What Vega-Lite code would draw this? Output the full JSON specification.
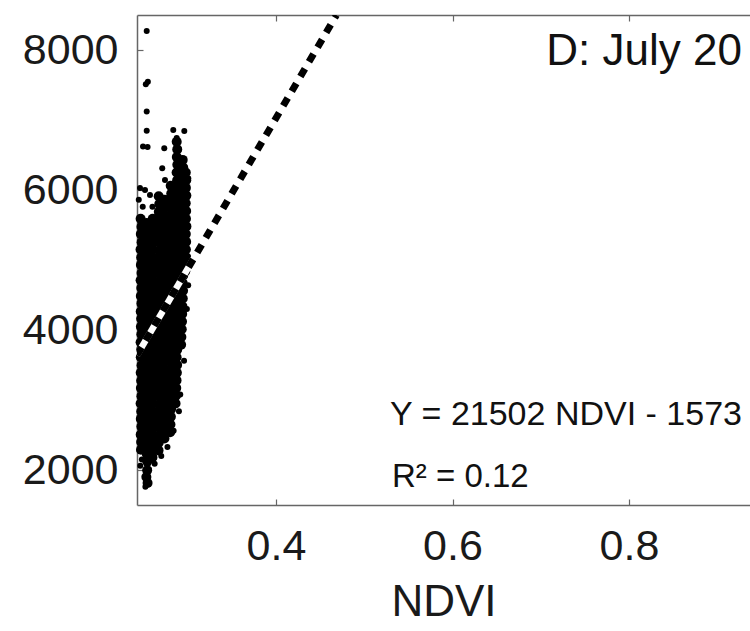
{
  "$schema": "https://vega.github.io/schema/vega-lite/v6.json",
  "autosize": {"type": "none"},
  "padding": {"left": 137, "top": 15, "right": 0, "bottom": 126},
  "width": 613,
  "height": 490,
  "background": "white",
  "config": {
    "view": {"stroke": null},
    "font": "Liberation Sans",
    "axis": {"grid": false, "labelFont": "Liberation Sans", "titleFont": "Liberation Sans", "labelColor": "#1a1a1a", "titleColor": "#1a1a1a", "domainColor": "#666666", "domainWidth": 1.5, "tickColor": "#666666", "tickWidth": 1.2, "titleFontWeight": "normal"}
  },
  "datasets": {
    "cloud": [
      {"ndvi": 0.2466, "y": 5590}, {"ndvi": 0.2475, "y": 5475}, {"ndvi": 0.2468, "y": 5370}, {"ndvi": 0.2477, "y": 5255}, {"ndvi": 0.2465, "y": 5150}, {"ndvi": 0.2472, "y": 5035}, {"ndvi": 0.2469, "y": 4930}, {"ndvi": 0.2476, "y": 4815}, {"ndvi": 0.2466, "y": 4710}, {"ndvi": 0.2473, "y": 4600}, {"ndvi": 0.2468, "y": 4485}, {"ndvi": 0.2475, "y": 4380}, {"ndvi": 0.2467, "y": 4265}, {"ndvi": 0.2472, "y": 4160}, {"ndvi": 0.2469, "y": 4045}, {"ndvi": 0.2474, "y": 3940}, {"ndvi": 0.2466, "y": 3825}, {"ndvi": 0.2473, "y": 3720}, {"ndvi": 0.2468, "y": 3610}, {"ndvi": 0.2476, "y": 3495}, {"ndvi": 0.2467, "y": 3390}, {"ndvi": 0.2472, "y": 3275}, {"ndvi": 0.2469, "y": 3170}, {"ndvi": 0.2475, "y": 3055}, {"ndvi": 0.2466, "y": 2950}, {"ndvi": 0.2473, "y": 2835}, {"ndvi": 0.2468, "y": 2730}, {"ndvi": 0.2474, "y": 2620}, {"ndvi": 0.2467, "y": 2505}, {"ndvi": 0.2472, "y": 2400}, {"ndvi": 0.2470, "y": 2290},
      {"ndvi": 0.2535, "y": 5530}, {"ndvi": 0.2541, "y": 5420}, {"ndvi": 0.2534, "y": 5310}, {"ndvi": 0.2540, "y": 5200}, {"ndvi": 0.2537, "y": 5090}, {"ndvi": 0.2543, "y": 4980}, {"ndvi": 0.2536, "y": 4870}, {"ndvi": 0.2540, "y": 4760}, {"ndvi": 0.2533, "y": 4650}, {"ndvi": 0.2541, "y": 4540}, {"ndvi": 0.2537, "y": 4430}, {"ndvi": 0.2542, "y": 4320}, {"ndvi": 0.2535, "y": 4210}, {"ndvi": 0.2539, "y": 4100}, {"ndvi": 0.2536, "y": 3990}, {"ndvi": 0.2543, "y": 3880}, {"ndvi": 0.2534, "y": 3770}, {"ndvi": 0.2540, "y": 3660}, {"ndvi": 0.2537, "y": 3550}, {"ndvi": 0.2541, "y": 3440}, {"ndvi": 0.2535, "y": 3330}, {"ndvi": 0.2539, "y": 3220}, {"ndvi": 0.2536, "y": 3110}, {"ndvi": 0.2542, "y": 3000}, {"ndvi": 0.2534, "y": 2890}, {"ndvi": 0.2540, "y": 2780}, {"ndvi": 0.2537, "y": 2670}, {"ndvi": 0.2541, "y": 2560}, {"ndvi": 0.2535, "y": 2450}, {"ndvi": 0.2539, "y": 2340}, {"ndvi": 0.2536, "y": 2230}, {"ndvi": 0.2541, "y": 2120}, {"ndvi": 0.2540, "y": 1995}, {"ndvi": 0.2531, "y": 1900}, {"ndvi": 0.2545, "y": 1815},
      {"ndvi": 0.2603, "y": 5590}, {"ndvi": 0.2609, "y": 5480}, {"ndvi": 0.2604, "y": 5370}, {"ndvi": 0.2610, "y": 5260}, {"ndvi": 0.2602, "y": 5150}, {"ndvi": 0.2608, "y": 5040}, {"ndvi": 0.2605, "y": 4930}, {"ndvi": 0.2611, "y": 4820}, {"ndvi": 0.2603, "y": 4710}, {"ndvi": 0.2607, "y": 4600}, {"ndvi": 0.2604, "y": 4490}, {"ndvi": 0.2610, "y": 4380}, {"ndvi": 0.2602, "y": 4270}, {"ndvi": 0.2608, "y": 4160}, {"ndvi": 0.2605, "y": 4050}, {"ndvi": 0.2609, "y": 3940}, {"ndvi": 0.2603, "y": 3830}, {"ndvi": 0.2607, "y": 3720}, {"ndvi": 0.2604, "y": 3610}, {"ndvi": 0.2610, "y": 3500}, {"ndvi": 0.2602, "y": 3390}, {"ndvi": 0.2608, "y": 3280}, {"ndvi": 0.2605, "y": 3170}, {"ndvi": 0.2611, "y": 3060}, {"ndvi": 0.2603, "y": 2950}, {"ndvi": 0.2607, "y": 2840}, {"ndvi": 0.2604, "y": 2730}, {"ndvi": 0.2609, "y": 2620}, {"ndvi": 0.2602, "y": 2510}, {"ndvi": 0.2608, "y": 2400}, {"ndvi": 0.2605, "y": 2290}, {"ndvi": 0.2600, "y": 2180},
      {"ndvi": 0.2671, "y": 5910}, {"ndvi": 0.2677, "y": 5800}, {"ndvi": 0.2672, "y": 5690}, {"ndvi": 0.2678, "y": 5580}, {"ndvi": 0.2670, "y": 5470}, {"ndvi": 0.2676, "y": 5360}, {"ndvi": 0.2673, "y": 5250}, {"ndvi": 0.2679, "y": 5140}, {"ndvi": 0.2671, "y": 5030}, {"ndvi": 0.2675, "y": 4920}, {"ndvi": 0.2672, "y": 4810}, {"ndvi": 0.2678, "y": 4700}, {"ndvi": 0.2670, "y": 4590}, {"ndvi": 0.2676, "y": 4480}, {"ndvi": 0.2673, "y": 4370}, {"ndvi": 0.2677, "y": 4260}, {"ndvi": 0.2671, "y": 4150}, {"ndvi": 0.2675, "y": 4040}, {"ndvi": 0.2672, "y": 3930}, {"ndvi": 0.2678, "y": 3820}, {"ndvi": 0.2670, "y": 3710}, {"ndvi": 0.2676, "y": 3600}, {"ndvi": 0.2673, "y": 3490}, {"ndvi": 0.2679, "y": 3380}, {"ndvi": 0.2671, "y": 3270}, {"ndvi": 0.2675, "y": 3160}, {"ndvi": 0.2672, "y": 3050}, {"ndvi": 0.2677, "y": 2940}, {"ndvi": 0.2670, "y": 2830}, {"ndvi": 0.2676, "y": 2720}, {"ndvi": 0.2673, "y": 2610}, {"ndvi": 0.2678, "y": 2500}, {"ndvi": 0.2671, "y": 2390}, {"ndvi": 0.2669, "y": 2280},
      {"ndvi": 0.2739, "y": 5860}, {"ndvi": 0.2745, "y": 5750}, {"ndvi": 0.2740, "y": 5640}, {"ndvi": 0.2746, "y": 5530}, {"ndvi": 0.2738, "y": 5420}, {"ndvi": 0.2744, "y": 5310}, {"ndvi": 0.2741, "y": 5200}, {"ndvi": 0.2747, "y": 5090}, {"ndvi": 0.2739, "y": 4980}, {"ndvi": 0.2743, "y": 4870}, {"ndvi": 0.2740, "y": 4760}, {"ndvi": 0.2746, "y": 4650}, {"ndvi": 0.2738, "y": 4540}, {"ndvi": 0.2744, "y": 4430}, {"ndvi": 0.2741, "y": 4320}, {"ndvi": 0.2745, "y": 4210}, {"ndvi": 0.2739, "y": 4100}, {"ndvi": 0.2743, "y": 3990}, {"ndvi": 0.2740, "y": 3880}, {"ndvi": 0.2746, "y": 3770}, {"ndvi": 0.2738, "y": 3660}, {"ndvi": 0.2744, "y": 3550}, {"ndvi": 0.2741, "y": 3440}, {"ndvi": 0.2747, "y": 3330}, {"ndvi": 0.2739, "y": 3220}, {"ndvi": 0.2743, "y": 3110}, {"ndvi": 0.2740, "y": 3000}, {"ndvi": 0.2745, "y": 2890}, {"ndvi": 0.2738, "y": 2780}, {"ndvi": 0.2744, "y": 2670}, {"ndvi": 0.2741, "y": 2560}, {"ndvi": 0.2736, "y": 2450},
      {"ndvi": 0.2807, "y": 6060}, {"ndvi": 0.2813, "y": 5950}, {"ndvi": 0.2808, "y": 5840}, {"ndvi": 0.2814, "y": 5730}, {"ndvi": 0.2806, "y": 5620}, {"ndvi": 0.2812, "y": 5510}, {"ndvi": 0.2809, "y": 5400}, {"ndvi": 0.2815, "y": 5290}, {"ndvi": 0.2807, "y": 5180}, {"ndvi": 0.2811, "y": 5070}, {"ndvi": 0.2808, "y": 4960}, {"ndvi": 0.2814, "y": 4850}, {"ndvi": 0.2806, "y": 4740}, {"ndvi": 0.2812, "y": 4630}, {"ndvi": 0.2809, "y": 4520}, {"ndvi": 0.2813, "y": 4410}, {"ndvi": 0.2807, "y": 4300}, {"ndvi": 0.2811, "y": 4190}, {"ndvi": 0.2808, "y": 4080}, {"ndvi": 0.2814, "y": 3970}, {"ndvi": 0.2806, "y": 3860}, {"ndvi": 0.2812, "y": 3750}, {"ndvi": 0.2809, "y": 3640}, {"ndvi": 0.2815, "y": 3530}, {"ndvi": 0.2807, "y": 3420}, {"ndvi": 0.2811, "y": 3310}, {"ndvi": 0.2808, "y": 3200}, {"ndvi": 0.2813, "y": 3090}, {"ndvi": 0.2806, "y": 2980}, {"ndvi": 0.2812, "y": 2870}, {"ndvi": 0.2809, "y": 2760}, {"ndvi": 0.2804, "y": 2650}, {"ndvi": 0.2801, "y": 2540},
      {"ndvi": 0.2875, "y": 6690}, {"ndvi": 0.2881, "y": 6580}, {"ndvi": 0.2876, "y": 6470}, {"ndvi": 0.2882, "y": 6360}, {"ndvi": 0.2874, "y": 6250}, {"ndvi": 0.2880, "y": 6140}, {"ndvi": 0.2877, "y": 6030}, {"ndvi": 0.2883, "y": 5920}, {"ndvi": 0.2875, "y": 5810}, {"ndvi": 0.2879, "y": 5700}, {"ndvi": 0.2876, "y": 5590}, {"ndvi": 0.2882, "y": 5480}, {"ndvi": 0.2874, "y": 5370}, {"ndvi": 0.2880, "y": 5260}, {"ndvi": 0.2877, "y": 5150}, {"ndvi": 0.2881, "y": 5040}, {"ndvi": 0.2875, "y": 4930}, {"ndvi": 0.2879, "y": 4820}, {"ndvi": 0.2876, "y": 4710}, {"ndvi": 0.2882, "y": 4600}, {"ndvi": 0.2874, "y": 4490}, {"ndvi": 0.2880, "y": 4380}, {"ndvi": 0.2877, "y": 4270}, {"ndvi": 0.2883, "y": 4160}, {"ndvi": 0.2875, "y": 4050}, {"ndvi": 0.2879, "y": 3940}, {"ndvi": 0.2876, "y": 3830}, {"ndvi": 0.2881, "y": 3720}, {"ndvi": 0.2874, "y": 3610}, {"ndvi": 0.2880, "y": 3500}, {"ndvi": 0.2877, "y": 3390}, {"ndvi": 0.2873, "y": 3280}, {"ndvi": 0.2870, "y": 3170}, {"ndvi": 0.2866, "y": 3060}, {"ndvi": 0.2862, "y": 2950},
      {"ndvi": 0.2943, "y": 6430}, {"ndvi": 0.2949, "y": 6320}, {"ndvi": 0.2944, "y": 6210}, {"ndvi": 0.2950, "y": 6100}, {"ndvi": 0.2942, "y": 5990}, {"ndvi": 0.2948, "y": 5880}, {"ndvi": 0.2945, "y": 5770}, {"ndvi": 0.2951, "y": 5660}, {"ndvi": 0.2943, "y": 5550}, {"ndvi": 0.2947, "y": 5440}, {"ndvi": 0.2944, "y": 5330}, {"ndvi": 0.2950, "y": 5220}, {"ndvi": 0.2942, "y": 5110}, {"ndvi": 0.2948, "y": 5000}, {"ndvi": 0.2945, "y": 4890}, {"ndvi": 0.2949, "y": 4780}, {"ndvi": 0.2943, "y": 4670}, {"ndvi": 0.2947, "y": 4560}, {"ndvi": 0.2944, "y": 4450}, {"ndvi": 0.2940, "y": 4340}, {"ndvi": 0.2937, "y": 4230}, {"ndvi": 0.2935, "y": 4120}, {"ndvi": 0.2932, "y": 4010}, {"ndvi": 0.2928, "y": 3900}, {"ndvi": 0.2925, "y": 3790},
      {"ndvi": 0.2978, "y": 6250}, {"ndvi": 0.2983, "y": 6140}, {"ndvi": 0.2979, "y": 6030}, {"ndvi": 0.2984, "y": 5920}, {"ndvi": 0.2977, "y": 5810}, {"ndvi": 0.2982, "y": 5700}, {"ndvi": 0.2980, "y": 5590}, {"ndvi": 0.2985, "y": 5480}, {"ndvi": 0.2978, "y": 5370}, {"ndvi": 0.2982, "y": 5260}, {"ndvi": 0.2979, "y": 5150}, {"ndvi": 0.2983, "y": 5040}, {"ndvi": 0.2977, "y": 4930}, {"ndvi": 0.2972, "y": 4840}
    ],
    "scatter": [
      {"ndvi": 0.2535, "y": 8271}, {"ndvi": 0.2525, "y": 7510}, {"ndvi": 0.2548, "y": 7545}, {"ndvi": 0.2535, "y": 7120}, {"ndvi": 0.2535, "y": 6845},
      {"ndvi": 0.2836, "y": 6857}, {"ndvi": 0.2961, "y": 6843}, {"ndvi": 0.2493, "y": 6620}, {"ndvi": 0.2545, "y": 6615}, {"ndvi": 0.2734, "y": 6596},
      {"ndvi": 0.2875, "y": 6743}, {"ndvi": 0.2711, "y": 6310}, {"ndvi": 0.2742, "y": 6143}, {"ndvi": 0.3006, "y": 6167}, {"ndvi": 0.2459, "y": 6029},
      {"ndvi": 0.2516, "y": 6000}, {"ndvi": 0.2572, "y": 5930}, {"ndvi": 0.2445, "y": 5860}, {"ndvi": 0.2490, "y": 5760}, {"ndvi": 0.2600, "y": 5760},
      {"ndvi": 0.2560, "y": 2010}, {"ndvi": 0.2625, "y": 2090}, {"ndvi": 0.2700, "y": 2200}, {"ndvi": 0.2770, "y": 2330}, {"ndvi": 0.2840, "y": 2560},
      {"ndvi": 0.2480, "y": 2150}, {"ndvi": 0.2462, "y": 2060}, {"ndvi": 0.2520, "y": 1760}, {"ndvi": 0.2958, "y": 3560}, {"ndvi": 0.2915, "y": 3080},
      {"ndvi": 0.3005, "y": 4640}, {"ndvi": 0.2900, "y": 2840}, {"ndvi": 0.2990, "y": 4300}
    ],
    "fit": [{"ndvi": 0.2425, "y": 3641}, {"ndvi": 0.4685, "y": 8500}]
  },
  "resolve": {"axis": {"x": "independent", "y": "independent"}},
  "layer": [
    {
      "data": {"name": "cloud"},
      "mark": {"type": "point", "filled": true, "shape": "circle", "size": 100, "color": "#000000", "opacity": 1},
      "encoding": {
        "x": {"field": "ndvi", "type": "quantitative", "scale": {"domain": [0.2425, 0.9371], "nice": false, "zero": false},
          "axis": {"orient": "bottom", "values": [0.4, 0.6, 0.8], "format": ".1f", "labelFontSize": 43, "tickSize": -6, "labelPadding": 26, "title": "NDVI", "titleFontSize": 44, "titlePadding": 12, "labelFlush": false}},
        "y": {"field": "y", "type": "quantitative", "scale": {"domain": [1500, 8500], "nice": false, "zero": false},
          "axis": {"orient": "left", "values": [2000, 4000, 6000, 8000], "format": "d", "labelFontSize": 43, "tickSize": -6, "labelPadding": 25, "title": null, "labelFlush": false}}
      }
    },
    {
      "data": {"name": "scatter"},
      "mark": {"type": "point", "filled": true, "shape": "circle", "size": 36, "color": "#000000", "opacity": 1},
      "encoding": {
        "x": {"field": "ndvi", "type": "quantitative", "axis": {"orient": "top", "values": [0.4, 0.6, 0.8], "labels": false, "tickSize": -6, "title": null}},
        "y": {"field": "y", "type": "quantitative", "axis": null}
      }
    },
    {
      "data": {"name": "fit"},
      "mark": {"type": "line", "color": "#ffffff", "strokeWidth": 6.5, "clip": true},
      "encoding": {
        "x": {"field": "ndvi", "type": "quantitative", "axis": null},
        "y": {"field": "y", "type": "quantitative", "axis": null}
      }
    },
    {
      "data": {"name": "fit"},
      "mark": {"type": "line", "color": "#000000", "strokeWidth": 7, "strokeDash": [9, 8], "clip": true},
      "encoding": {
        "x": {"field": "ndvi", "type": "quantitative", "axis": null},
        "y": {"field": "y", "type": "quantitative", "axis": null}
      }
    },
    {
      "data": {"values": [{"ndvi": 0.928, "y": 7786, "label": "D: July 20"}]},
      "mark": {"type": "text", "align": "right", "baseline": "alphabetic", "fontSize": 44, "font": "Liberation Sans", "color": "#111111"},
      "encoding": {
        "x": {"field": "ndvi", "type": "quantitative", "axis": null},
        "y": {"field": "y", "type": "quantitative", "axis": null},
        "text": {"field": "label"}
      }
    },
    {
      "data": {"values": [{"ndvi": 0.928, "y": 2643, "label": "Y = 21502 NDVI - 1573"}]},
      "mark": {"type": "text", "align": "right", "baseline": "alphabetic", "fontSize": 34, "font": "Liberation Sans", "color": "#111111"},
      "encoding": {
        "x": {"field": "ndvi", "type": "quantitative", "axis": null},
        "y": {"field": "y", "type": "quantitative", "axis": null},
        "text": {"field": "label"}
      }
    },
    {
      "data": {"values": [{"ndvi": 0.5314, "y": 1757, "label": "R² = 0.12"}]},
      "mark": {"type": "text", "align": "left", "baseline": "alphabetic", "fontSize": 33, "font": "Liberation Sans", "color": "#111111"},
      "encoding": {
        "x": {"field": "ndvi", "type": "quantitative", "axis": null},
        "y": {"field": "y", "type": "quantitative", "axis": null},
        "text": {"field": "label"}
      }
    }
  ]
}
